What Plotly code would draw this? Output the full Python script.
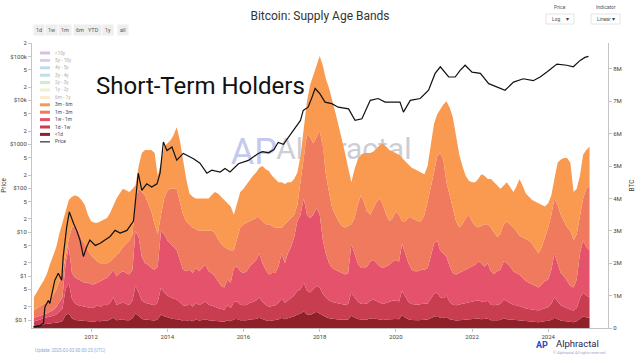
import pandas as pd
import plotly.graph_objects as go

# ---------------- data ----------------
months = pd.date_range("2010-07-01", "2025-02-01", freq="MS").strftime("%Y-%m-%d").tolist()

# BTC held in each age band (millions of BTC), monthly
lt1d = [
    0.08, 0.09, 0.11, 0.12, 0.12, 0.14,
    0.15, 0.16, 0.18, 0.22, 0.40, 0.45, 0.30, 0.25, 0.24, 0.22, 0.20, 0.20,
    0.20, 0.20, 0.22, 0.21, 0.24, 0.22, 0.26, 0.32, 0.24, 0.25, 0.27, 0.24,
    0.24, 0.30, 0.45, 0.38, 0.28, 0.26, 0.25, 0.24, 0.23, 0.27, 0.42, 0.36,
    0.32, 0.30, 0.28, 0.28, 0.26, 0.22, 0.22, 0.25, 0.21, 0.26, 0.23, 0.25,
    0.27, 0.24, 0.23, 0.22, 0.21, 0.20, 0.19, 0.24, 0.21, 0.27, 0.28, 0.24,
    0.23, 0.24, 0.26, 0.27, 0.28, 0.32, 0.27, 0.24, 0.22, 0.23, 0.23, 0.26,
    0.32, 0.27, 0.30, 0.33, 0.36, 0.42, 0.44, 0.52, 0.42, 0.40, 0.44, 0.50,
    0.45, 0.38, 0.34, 0.30, 0.28, 0.27, 0.26, 0.26, 0.25, 0.26, 0.38, 0.33,
    0.28, 0.26, 0.25, 0.26, 0.29, 0.30, 0.28, 0.26, 0.25, 0.26, 0.27, 0.28,
    0.28, 0.27, 0.40, 0.32, 0.27, 0.25, 0.24, 0.24, 0.25, 0.25, 0.26, 0.30,
    0.35, 0.37, 0.32, 0.31, 0.34, 0.27, 0.24, 0.23, 0.24, 0.25, 0.26, 0.26,
    0.27, 0.27, 0.29, 0.27, 0.27, 0.29, 0.24, 0.23, 0.24, 0.25, 0.30, 0.27,
    0.26, 0.24, 0.23, 0.23, 0.21, 0.20, 0.19, 0.19, 0.18, 0.18, 0.19, 0.21,
    0.21, 0.25, 0.32, 0.27, 0.23, 0.22, 0.20, 0.19, 0.18, 0.21, 0.30, 0.36,
    0.33, 0.31,
]
d1_w1 = [
    0.12, 0.13, 0.15, 0.18, 0.20, 0.21,
    0.23, 0.26, 0.32, 0.38, 0.80, 0.95, 0.60, 0.50, 0.46, 0.46, 0.46, 0.45,
    0.42, 0.44, 0.48, 0.45, 0.48, 0.48, 0.52, 0.63, 0.48, 0.50, 0.53, 0.50,
    0.48, 0.55, 0.85, 0.72, 0.57, 0.52, 0.50, 0.48, 0.47, 0.53, 0.83, 0.74,
    0.68, 0.65, 0.62, 0.60, 0.54, 0.48, 0.46, 0.50, 0.45, 0.52, 0.47, 0.51,
    0.55, 0.48, 0.47, 0.44, 0.41, 0.38, 0.37, 0.46, 0.41, 0.53, 0.54, 0.48,
    0.47, 0.48, 0.52, 0.53, 0.57, 0.63, 0.53, 0.48, 0.44, 0.45, 0.47, 0.52,
    0.58, 0.51, 0.55, 0.59, 0.64, 0.73, 0.76, 0.88, 0.73, 0.70, 0.76, 0.80,
    0.80, 0.67, 0.61, 0.55, 0.52, 0.51, 0.50, 0.48, 0.47, 0.48, 0.72, 0.62,
    0.54, 0.49, 0.49, 0.50, 0.56, 0.58, 0.54, 0.52, 0.49, 0.52, 0.53, 0.56,
    0.57, 0.55, 0.75, 0.63, 0.53, 0.49, 0.48, 0.48, 0.49, 0.49, 0.50, 0.60,
    0.70, 0.73, 0.63, 0.61, 0.66, 0.53, 0.48, 0.47, 0.48, 0.49, 0.50, 0.52,
    0.53, 0.55, 0.57, 0.55, 0.53, 0.56, 0.48, 0.47, 0.48, 0.49, 0.58, 0.55,
    0.52, 0.48, 0.47, 0.45, 0.43, 0.40, 0.39, 0.37, 0.37, 0.36, 0.39, 0.41,
    0.43, 0.50, 0.63, 0.55, 0.47, 0.44, 0.40, 0.37, 0.36, 0.41, 0.62, 0.74,
    0.67, 0.64,
]
w1_m1 = [
    0.12, 0.13, 0.14, 0.12, 0.13, 0.15,
    0.17, 0.23, 0.30, 0.35, 0.80, 1.10, 0.80, 0.80, 0.80, 0.77, 0.74, 0.75,
    0.73, 0.71, 0.70, 0.79, 0.78, 0.85, 0.87, 0.85, 0.88, 0.95, 0.95, 0.96,
    0.93, 0.95, 1.70, 1.70, 1.35, 1.22, 1.20, 1.13, 1.10, 1.10, 1.75, 1.80,
    1.70, 1.65, 1.60, 1.52, 1.30, 1.10, 1.07, 1.05, 1.04, 1.07, 1.05, 1.09,
    1.13, 1.03, 1.00, 0.94, 0.83, 0.72, 0.69, 0.80, 0.78, 1.05, 1.08, 1.03,
    1.00, 1.03, 1.12, 1.20, 1.25, 1.35, 1.20, 1.08, 0.99, 1.02, 1.00, 1.12,
    1.40, 1.22, 1.45, 1.58, 1.80, 2.15, 2.30, 2.60, 2.35, 2.30, 2.30, 2.40,
    2.25, 1.65, 1.35, 1.15, 1.05, 1.02, 0.99, 0.96, 0.93, 0.96, 1.50, 1.35,
    1.18, 1.10, 1.11, 1.14, 1.20, 1.22, 1.18, 1.12, 1.11, 1.12, 1.15, 1.21,
    1.25, 1.23, 1.45, 1.35, 1.20, 1.06, 1.03, 1.03, 1.06, 1.06, 1.09, 1.30,
    1.55, 1.60, 1.45, 1.38, 1.20, 1.10, 0.98, 0.95, 0.98, 1.01, 1.04, 1.07,
    1.10, 1.13, 1.19, 1.18, 1.10, 1.15, 1.03, 0.97, 1.03, 1.06, 1.17, 1.18,
    1.12, 1.03, 1.00, 0.97, 0.91, 0.85, 0.82, 0.79, 0.75, 0.71, 0.77, 0.83,
    0.86, 1.05, 1.35, 1.18, 1.00, 0.94, 0.85, 0.74, 0.71, 0.88, 1.38, 1.60,
    1.50, 1.45,
]
m1_m3 = [
    0.23, 0.27, 0.28, 0.32, 0.35, 0.35,
    0.45, 0.55, 0.65, 0.75, 0.20, 0.25, 1.40, 1.60, 1.50, 1.30, 1.20, 1.00,
    0.90, 0.80, 0.65, 0.55, 0.50, 0.45, 0.40, 0.35, 0.65, 0.65, 0.75, 0.90,
    1.05, 1.10, 1.00, 1.50, 2.00, 2.10, 1.90, 1.75, 1.40, 1.00, 0.50, 1.10,
    1.55, 1.70, 1.80, 1.90, 1.80, 1.70, 1.55, 1.40, 1.40, 1.20, 1.25, 1.15,
    1.05, 1.25, 1.30, 1.35, 1.30, 1.30, 1.25, 0.95, 1.00, 0.55, 0.90, 1.35,
    1.50, 1.50, 1.40, 1.35, 1.30, 1.10, 1.30, 1.40, 1.55, 1.45, 1.40, 1.20,
    0.80, 1.20, 1.00, 0.90, 0.70, 0.50, 1.00, 1.30, 2.50, 2.50, 2.20, 2.20,
    2.60, 2.90, 2.45, 2.20, 1.85, 1.70, 1.55, 1.45, 1.45, 1.45, 0.60, 1.10,
    1.80, 2.25, 2.05, 1.70, 1.45, 1.60, 1.90, 2.10, 1.95, 1.60, 1.35, 1.35,
    1.50, 1.45, 0.70, 1.00, 1.40, 1.60, 1.60, 1.55, 1.50, 1.70, 2.05, 2.10,
    2.20, 2.60, 3.00, 2.90, 2.30, 2.20, 2.00, 1.65, 1.40, 1.45, 1.60, 1.65,
    1.40, 1.20, 1.05, 1.15, 1.30, 1.20, 1.35, 1.28, 1.05, 1.10, 1.15, 1.30,
    1.30, 1.35, 1.30, 1.20, 1.25, 1.30, 1.30, 1.25, 1.15, 1.05, 1.15, 1.35,
    1.60, 1.70, 1.70, 1.80, 1.80, 1.70, 1.65, 1.70, 1.45, 1.40, 1.20, 1.30,
    1.80, 2.00,
]
m3_m6 = [
    0.40, 0.53, 0.62, 0.71, 0.85, 1.10,
    1.25, 1.30, 1.45, 1.60, 1.40, 1.20, 0.95, 0.95, 1.05, 1.20, 1.20, 1.10,
    1.05, 1.10, 1.20, 1.30, 1.35, 1.40, 1.50, 1.65, 1.75, 1.80, 1.80, 1.65,
    1.50, 1.40, 0.40, 0.70, 1.20, 1.40, 1.65, 1.90, 2.20, 1.80, 1.60, 1.60,
    1.45, 1.50, 1.65, 1.90, 1.90, 1.70, 1.30, 0.95, 0.95, 0.95, 1.00, 1.00,
    1.00, 1.00, 1.10, 1.25, 1.40, 1.45, 1.45, 1.40, 1.35, 1.10, 1.10, 1.10,
    1.10, 1.20, 1.25, 1.35, 1.40, 1.55, 1.70, 1.70, 1.65, 1.55, 1.50, 1.40,
    1.40, 1.25, 1.20, 1.10, 1.10, 1.00, 0.80, 0.80, 1.00, 1.60, 2.10, 2.20,
    2.30, 2.50, 2.95, 3.20, 3.35, 3.15, 2.95, 2.70, 2.30, 1.80, 1.30, 1.50,
    1.40, 1.25, 1.50, 1.80, 1.90, 1.75, 1.65, 1.65, 1.90, 2.10, 2.20, 2.05,
    1.80, 1.85, 1.95, 1.85, 1.65, 1.55, 1.55, 1.55, 1.50, 1.25, 1.10, 1.30,
    1.50, 1.30, 1.35, 1.70, 2.50, 2.70, 2.80, 2.60, 2.25, 1.80, 1.30, 1.05,
    1.20, 1.35, 1.50, 1.60, 1.50, 1.40, 1.50, 1.55, 1.60, 1.40, 1.20, 1.20,
    1.15, 1.10, 1.35, 1.75, 1.60, 1.40, 1.35, 1.35, 1.45, 1.55, 1.30, 0.95,
    0.75, 0.60, 0.60, 1.30, 1.70, 1.95, 2.15, 2.10, 1.50, 1.40, 1.20, 1.35,
    1.20, 1.20,
]

price_dates = [
    "2010-06-25", "2010-08-28", "2010-10-01", "2010-10-15", "2010-11-17", "2010-12-01",
    "2011-01-18", "2011-02-20", "2011-03-25", "2011-04-08", "2011-05-12", "2011-06-06",
    "2011-07-16", "2011-08-15", "2011-09-16", "2011-10-19", "2011-11-21", "2011-12-20",
    "2012-02-10", "2012-03-28", "2012-07-01", "2012-08-18", "2012-10-05", "2012-12-10",
    "2013-02-10", "2013-03-28", "2013-05-01", "2013-06-17", "2013-08-04", "2013-09-24",
    "2013-10-23", "2013-11-24", "2013-12-28", "2014-02-14", "2014-04-01", "2014-06-03",
    "2014-09-09", "2014-11-10", "2015-01-15", "2015-03-03", "2015-05-22", "2015-07-08",
    "2015-08-25", "2015-11-14", "2016-02-17", "2016-05-22", "2016-07-01", "2016-08-29",
    "2016-10-19", "2016-11-29", "2017-01-18", "2017-03-20", "2017-06-10", "2017-07-01",
    "2017-07-27", "2017-09-12", "2017-10-19", "2017-11-18", "2018-01-04", "2018-02-21",
    "2018-04-27", "2018-06-28", "2018-10-05", "2018-12-06", "2019-02-10", "2019-05-01",
    "2019-07-16", "2019-09-20", "2019-12-24", "2020-02-10", "2020-03-14", "2020-05-19",
    "2020-08-22", "2020-11-10", "2021-01-12", "2021-03-03", "2021-05-22", "2021-07-23",
    "2021-09-09", "2021-10-27", "2022-01-01", "2022-03-22", "2022-06-10", "2022-08-29",
    "2022-11-14", "2023-02-03", "2023-05-08", "2023-08-11", "2023-10-16", "2023-12-20",
    "2024-03-25", "2024-06-28", "2024-08-29", "2024-11-03", "2024-12-19", "2025-01-22",
]
price_values = [
    0.07, 0.075, 0.085, 0.2, 0.28, 0.24,
    0.81, 1.17, 0.81, 2.75, 13.2, 29,
    16, 11, 6.6, 2.8, 4.7, 6.6,
    5.0, 5.6, 8.0, 11, 9.6, 11,
    18, 220, 89, 126, 107, 126,
    220, 1130, 724, 870, 436, 620,
    470, 370, 220, 257, 234, 280,
    234, 360, 430, 620, 680, 640,
    760, 1100, 1000, 1600, 2900, 3500,
    5900, 7000, 11700, 18600, 14000, 9100,
    8400, 7000, 6400, 3500, 3800, 10000,
    11000, 9100, 9100, 9100, 5400, 10000,
    11000, 17000, 41000, 58000, 34000, 34000,
    48000, 63000, 44000, 41000, 24000, 20000,
    17000, 26000, 31000, 28000, 34000, 44000,
    67000, 63000, 58000, 81000, 95000, 100000,
]

band_names = ["<1d", "1d - 1w", "1w - 1m", "1m - 3m", "3m - 6m"]
band_colors = ["#8e2129", "#c83d50", "#e5526b", "#f07a5e", "#f99a50"]

legend_names = ["<10y", "5y - 10y", "4y - 5y", "3y - 4y", "2y - 3y", "1y - 2y", "6m - 1y",
                "3m - 6m", "1m - 3m", "1w - 1m", "1d - 1w", "<1d", "Price"]
legend_colors = ["#b084c8", "#a7a6de", "#86b3ea", "#84c3c9", "#a5d6a2", "#dfe49a", "#f7dc9e",
                 "#f99a50", "#f07a5e", "#e5526b", "#c83d50", "#8e2129", "#555555"]
legend_hidden = [True] * 7 + [False] * 6

price_tickvals = [0.1, 0.2, 0.5, 1, 2, 5, 10, 20, 50, 100, 200, 500, 1000, 2000, 5000,
                  1e4, 2e4, 5e4, 1e5, 2e5]
price_ticktext = ["$0.1", "2", "5", "$1", "2", "5", "$10", "2", "5", "$100", "2", "5",
                  "$1000", "2", "5", "$10k", "2", "5", "$100k", "2"]
btc_tickvals = [0, 1, 2, 3, 4, 5, 6, 7, 8]
btc_ticktext = ["0", "1M", "2M", "3M", "4M", "5M", "6M", "7M", "8M"]

range_buttons = ["1d", "1w", "1m", "6m", "YTD", "1y", "all"]

# ---------------- layout helpers (pixel -> paper) ----------------
L, R, T, B = 32, 608, 43, 328
def px(x):
    return (x - L) / (R - L)
def py(y):
    return (B - y) / (B - T)

FONT = "Roboto, Arial, sans-serif"

fig = go.Figure()

# watermark (drawn first so the areas cover it)
fig.add_trace(go.Scatter(x=["2016-04-10"], y=[5.35], mode="text", text=["AP"],
                         textfont=dict(size=36, color="#c6c9ef", family=FONT),
                         textposition="middle center", hoverinfo="skip", showlegend=False))
fig.add_trace(go.Scatter(x=["2016-11-10"], y=[5.45], mode="text", text=["Alphractal"],
                         textfont=dict(size=30, color="#cdced5", family=FONT),
                         textposition="middle right", hoverinfo="skip", showlegend=False))

for name, vals, col in zip(band_names, [lt1d, d1_w1, w1_m1, m1_m3, m3_m6], band_colors):
    fig.add_trace(go.Scatter(x=months, y=vals, name=name, stackgroup="age",
                             mode="lines", line=dict(width=0, color=col),
                             fillcolor=col, showlegend=False))

fig.add_trace(go.Scatter(x=price_dates, y=price_values, name="Price", mode="lines",
                         line=dict(color="#111111", width=1.2), yaxis="y2",
                         showlegend=False))

annotations = []
shapes = []

annotations.append(dict(text="Short-Term Holders", x=px(94), y=py(86), xref="paper",
                        yref="paper", xanchor="left", yanchor="middle", showarrow=False,
                        font=dict(size=24, color="#111111", family=FONT)))

# range buttons
btn_x = [38.5, 51, 65, 79.5, 93, 108, 123]
for lbl, bx in zip(range_buttons, btn_x):
    annotations.append(dict(text=lbl, x=px(bx), y=py(30), xref="paper", yref="paper",
                            xanchor="center", yanchor="middle", showarrow=False,
                            bgcolor="#eeeeee", borderpad=2,
                            font=dict(size=5.5, color="#555555", family=FONT)))

# dropdowns
for lbl, val, x0, x1 in [("Price", "Log", 546, 574), ("Indicator", "Linear", 591, 620)]:
    annotations.append(dict(text=lbl, x=px((x0 + x1) / 2), y=py(7), xref="paper",
                            yref="paper", xanchor="center", yanchor="middle",
                            showarrow=False, font=dict(size=5, color="#555555", family=FONT)))
    shapes.append(dict(type="rect", xref="paper", yref="paper", x0=px(x0), x1=px(x1),
                       y0=py(24), y1=py(14), line=dict(color="#dddddd", width=0.8),
                       fillcolor="white"))
    annotations.append(dict(text=val, x=px(x0 + 4), y=py(19), xref="paper", yref="paper",
                            xanchor="left", yanchor="middle", showarrow=False,
                            font=dict(size=5, color="#555555", family=FONT)))
    annotations.append(dict(text="▾", x=px(x1 - 3), y=py(19), xref="paper", yref="paper",
                            xanchor="right", yanchor="middle", showarrow=False,
                            font=dict(size=6, color="#444444", family=FONT)))

# legend
for i, (nm, col, hid) in enumerate(zip(legend_names, legend_colors, legend_hidden)):
    yy = 53 + i * 7.4
    shapes.append(dict(type="line", xref="paper", yref="paper", x0=px(40), x1=px(50),
                       y0=py(yy), y1=py(yy),
                       line=dict(color=col, width=1.5 if nm == "Price" else 3),
                       opacity=0.5 if hid else 1))
    annotations.append(dict(text=nm, x=px(52.5), y=py(yy), xref="paper", yref="paper",
                            xanchor="left", yanchor="middle", showarrow=False,
                            font=dict(size=4.8, color="#b0b0b0" if hid else "#444444",
                                      family=FONT)))

# footer
annotations.append(dict(text="Update: 2025-02-03 00:00:25 (UTC)", x=px(33), y=py(350),
                        xref="paper", yref="paper", xanchor="left", yanchor="middle",
                        showarrow=False, font=dict(size=4.5, color="#8fa9d8", family=FONT)))
annotations.append(dict(text="<b>AP</b>", x=px(550), y=py(344.5), xref="paper",
                        yref="paper", xanchor="right", yanchor="middle", showarrow=False,
                        font=dict(size=9, color="#2a47c4", family=FONT)))
annotations.append(dict(text="Alphractal", x=px(554), y=py(343), xref="paper",
                        yref="paper", xanchor="left", yanchor="middle", showarrow=False,
                        font=dict(size=9.5, color="#1e2550", family=FONT)))
annotations.append(dict(text="© Alphractal All rights reserved", x=px(607), y=py(352),
                        xref="paper", yref="paper", xanchor="right", yanchor="middle",
                        showarrow=False, font=dict(size=3.8, color="#9aa6c8", family=FONT)))

axis_col = "#c4c4c4"
tick_font = dict(size=6, color="#444444", family=FONT)

fig.update_layout(
    width=640, height=360,
    margin=dict(l=L, r=640 - R, t=T, b=360 - B, autoexpand=False),
    paper_bgcolor="white", plot_bgcolor="white",
    font=dict(family=FONT, color="#444444"),
    showlegend=False,
    title=dict(text="Bitcoin: Supply Age Bands", x=0.5, xanchor="center",
               y=1 - 16 / 360, yanchor="middle", yref="container",
               font=dict(size=12, color="#333333", family=FONT)),
    xaxis=dict(type="date", range=["2010-06-13", "2025-07-28"], showgrid=False,
               zeroline=False, showline=True, linecolor=axis_col, linewidth=1,
               ticks="outside", ticklen=3, tickcolor=axis_col, tickfont=tick_font,
               tick0="2012-01-01", dtick="M24", tickformat="%Y"),
    yaxis=dict(side="right", range=[0, 8.8], showgrid=False, zeroline=False,
               showline=True, linecolor=axis_col, ticks="outside", ticklen=3,
               tickcolor=axis_col, tickmode="array", tickvals=btc_tickvals,
               ticktext=btc_ticktext, tickfont=tick_font, automargin=False,
               title=dict(text="BTC", font=dict(size=6.5, color="#444444"), standoff=8)),
    yaxis2=dict(overlaying="y", side="left", type="log", range=[-1.18, 5.305],
                anchor="x", showgrid=False, zeroline=False, showline=True,
                linecolor=axis_col, ticks="outside", ticklen=3, tickcolor=axis_col,
                tickmode="array", tickvals=price_tickvals, ticktext=price_ticktext,
                tickfont=tick_font, automargin=False,
                title=dict(text="Price", font=dict(size=6.5, color="#444444"), standoff=6)),
    annotations=annotations,
    shapes=shapes,
)

fig.write_html("out.html", config={"displayModeBar": False},
               post_script="document.body.style.margin='0';document.body.style.overflow='hidden';")
